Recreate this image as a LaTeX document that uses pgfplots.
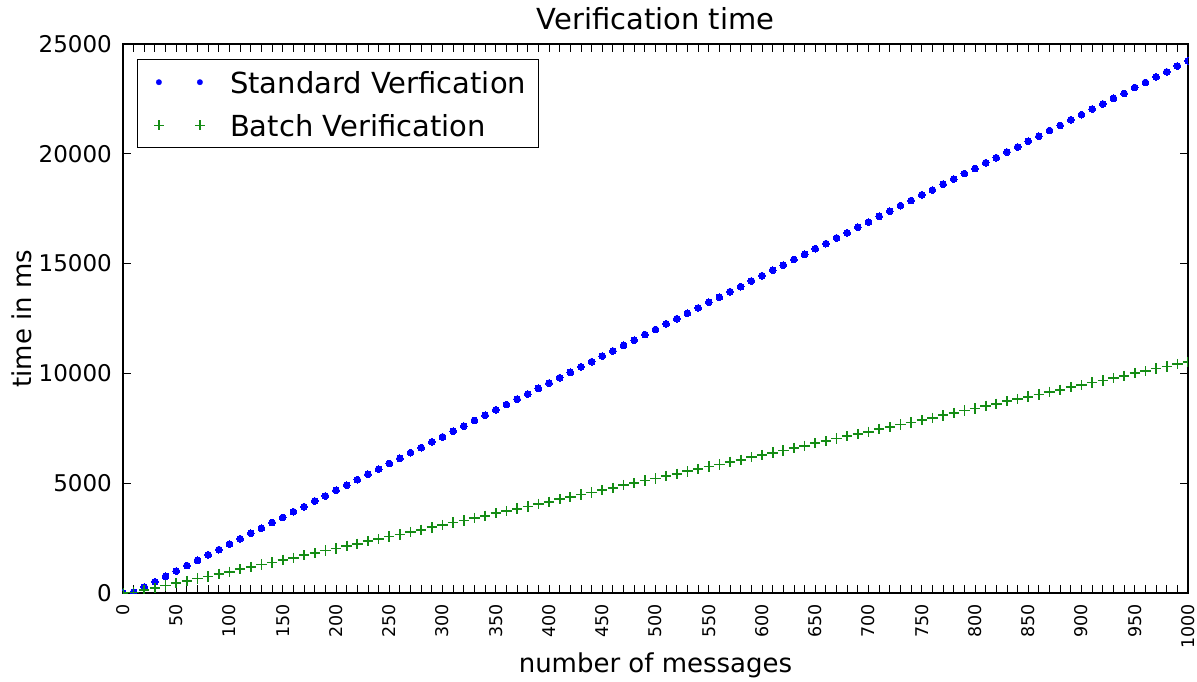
\documentclass[border=0pt]{standalone}
\usepackage{pgfplots}
\pgfplotsset{compat=1.18}
\usepackage{fontspec}
\setmainfont{DejaVu Sans}
\definecolor{mplblue}{rgb}{0,0,1}
\definecolor{mplgreen}{rgb}{0.08,0.55,0.08}
\begin{document}
\begin{tikzpicture}
\begin{axis}[
  scale only axis, width=1065pt, height=549pt,
  xmin=0, xmax=1000, ymin=0, ymax=25000,
  axis line style={line width=1.6pt, black},
  tick align=inside, tick pos=both,
  major tick length=8pt, minor tick length=8pt,
  every tick/.style={black, line width=0.9pt},
  xtick={0,50,...,1000}, minor xtick={0,10,...,1000},
  ytick={0,5000,...,25000},
  scaled y ticks=false, scaled x ticks=false,
  /pgf/number format/1000 sep={},
  /pgf/number format/assume math mode=true,
  xticklabel style={font=\fontsize{17.5}{21}\selectfont, rotate=90, anchor=east, inner xsep=11pt, inner ysep=0pt},
  yticklabel style={font=\fontsize{23}{27}\selectfont, anchor=east, inner xsep=11pt, inner ysep=0pt},
  xlabel={number of messages}, ylabel={time in ms},
  label style={font=\fontsize{26}{30}\selectfont},
  xlabel style={at={(axis description cs:0.5,-0.1311)}, anchor=center},
  ylabel style={at={(axis description cs:-0.0948,0.5)}, anchor=center},
  title={Verification time},
  title style={font=\fontsize{29}{34}\selectfont, at={(axis description cs:0.5,1)}, anchor=base, yshift=8pt},
  clip marker paths=true,
  legend cell align=left,
  legend style={at={(axis description cs:0,1)}, anchor=north west, xshift=14.3pt, yshift=-15.3pt,
    draw=black, line width=1.2pt, font=\fontsize{29}{34}\selectfont,
    inner xsep=12.7pt, inner ysep=11.3pt, row sep=21pt,
    nodes={inner sep=0pt, text height=22pt, text depth=0pt},
    /tikz/every odd column/.append style={column sep=21.5pt}},
]
\addplot[only marks, mark=*, mark size=3.4pt, color=mplblue, mark options={draw=mplblue, fill=mplblue, line width=0pt},
  legend image code/.code={\path[draw=none,fill=none] (0pt,0pt) -- (58pt,0pt);
    \begin{pgfscope}\pgfsetfillcolor{mplblue}\pgfsetstrokecolor{mplblue}\pgfsetlinewidth{0.2pt}\pgfsetplotmarksize{2.8pt}%
    \pgftransformshift{\pgfpoint{8.3pt}{0pt}}\pgfuseplotmark{*}\end{pgfscope}
    \begin{pgfscope}\pgfsetfillcolor{mplblue}\pgfsetstrokecolor{mplblue}\pgfsetlinewidth{0.2pt}\pgfsetplotmarksize{2.8pt}%
    \pgftransformshift{\pgfpoint{49.3pt}{0pt}}\pgfuseplotmark{*}\end{pgfscope}}]
coordinates {
(0,0) (10,40) (20,275) (30,510) (40,760) (50,1000) (60,1250) (70,1490) (80,1740) (90,1975)
(100,2230) (110,2470) (120,2720) (130,2950) (140,3210) (150,3440) (160,3700) (170,3930) (180,4190) (190,4420)
(200,4680) (210,4910) (220,5160) (230,5410) (240,5640) (250,5900) (260,6130) (270,6390) (280,6620) (290,6880)
(300,7110) (310,7370) (320,7600) (330,7860) (340,8090) (350,8340) (360,8580) (370,8830) (380,9060) (390,9320)
(400,9560) (410,9800) (420,10050) (430,10300) (440,10530) (450,10790) (460,11020) (470,11280) (480,11510) (490,11770)
(500,12000) (510,12260) (520,12490) (530,12740) (540,12980) (550,13240) (560,13470) (570,13720) (580,13950) (590,14210)
(600,14450) (610,14700) (620,14930) (630,15190) (640,15420) (650,15680) (660,15910) (670,16170) (680,16400) (690,16660)
(700,16890) (710,17150) (720,17380) (730,17640) (740,17870) (750,18130) (760,18350) (770,18620) (780,18850) (790,19100)
(800,19330) (810,19590) (820,19820) (830,20080) (840,20310) (850,20570) (860,20800) (870,21060) (880,21290) (890,21550)
(900,21780) (910,22040) (920,22270) (930,22530) (940,22750) (950,23020) (960,23250) (970,23500) (980,23730) (990,24000)
(1000,24230)
};
\addlegendentry{Standard Verfication}
\addplot[only marks, mark=+, mark size=5.2pt, color=mplgreen, line width=1.7pt, mark options={line width=1.7pt},
  legend image code/.code={\path[draw=none,fill=none] (0pt,0pt) -- (58pt,0pt);
    \begin{pgfscope}\pgfsetstrokecolor{mplgreen}\pgfsetlinewidth{1.3pt}\pgfsetplotmarksize{4.8pt}%
    \pgftransformshift{\pgfpoint{8.3pt}{0pt}}\pgfuseplotmark{+}\end{pgfscope}
    \begin{pgfscope}\pgfsetstrokecolor{mplgreen}\pgfsetlinewidth{1.3pt}\pgfsetplotmarksize{4.8pt}%
    \pgftransformshift{\pgfpoint{49.3pt}{0pt}}\pgfuseplotmark{+}\end{pgfscope}}]
coordinates {
(0,0) (10,20) (20,130) (30,225) (40,340) (50,450) (60,540) (70,660) (80,750) (90,870)
(100,970) (110,1080) (120,1180) (130,1300) (140,1390) (150,1510) (160,1600) (170,1720) (180,1810) (190,1930)
(200,2030) (210,2150) (220,2240) (230,2360) (240,2450) (250,2570) (260,2660) (270,2780) (280,2880) (290,2990)
(300,3090) (310,3210) (320,3300) (330,3420) (340,3510) (350,3630) (360,3730) (370,3840) (380,3940) (390,4060)
(400,4150) (410,4270) (420,4360) (430,4480) (440,4580) (450,4690) (460,4790) (470,4910) (480,5000) (490,5120)
(500,5210) (510,5330) (520,5430) (530,5540) (540,5640) (550,5760) (560,5850) (570,5970) (580,6060) (590,6180)
(600,6280) (610,6390) (620,6490) (630,6610) (640,6700) (650,6820) (660,6910) (670,7030) (680,7140) (690,7240)
(700,7340) (710,7460) (720,7550) (730,7670) (740,7760) (750,7880) (760,7980) (770,8090) (780,8190) (790,8310)
(800,8400) (810,8520) (820,8610) (830,8730) (840,8830) (850,8940) (860,9040) (870,9160) (880,9250) (890,9370)
(900,9460) (910,9580) (920,9680) (930,9790) (940,9890) (950,10010) (960,10100) (970,10220) (980,10310) (990,10430)
(1000,10530)
};
\addlegendentry{Batch Verification}
\end{axis}
\path ([shift={(-123pt,-88pt)}]current axis.south west) rectangle ([shift={(9pt,44pt)}]current axis.north east);
\end{tikzpicture}
\end{document}
